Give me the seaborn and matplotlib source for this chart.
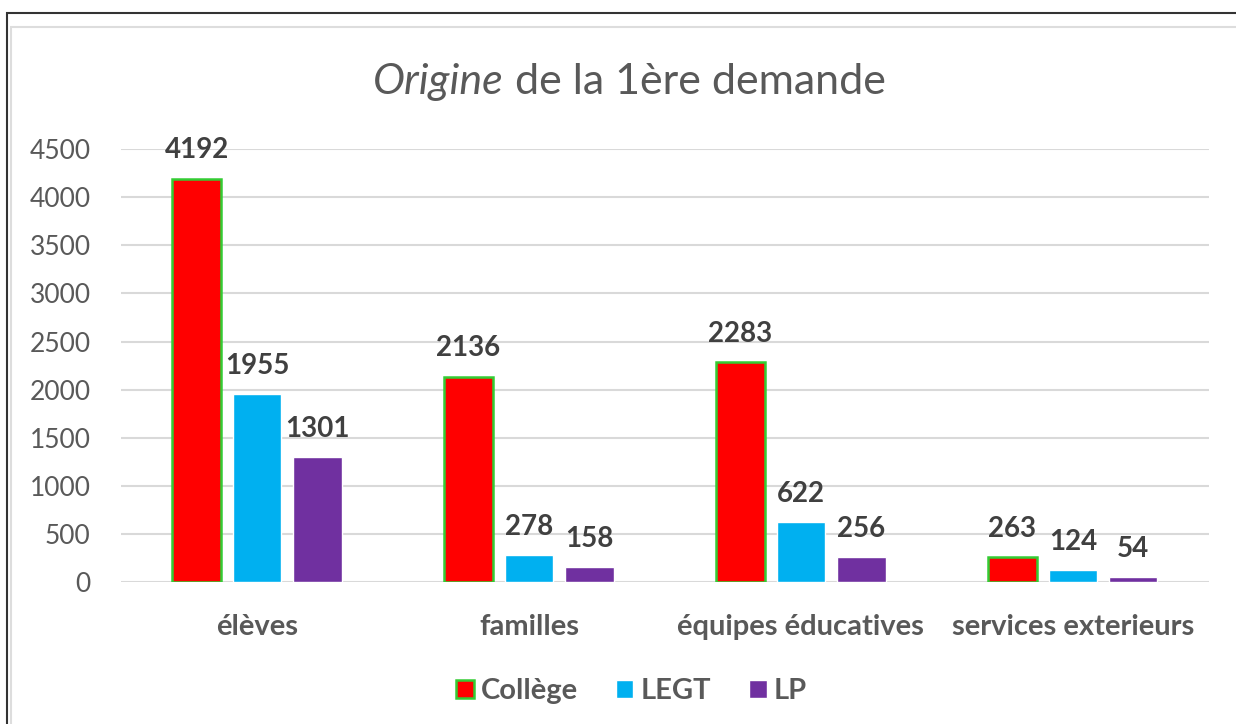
import seaborn as sns
import pandas as pd
import matplotlib.pyplot as plt
from matplotlib.patches import Patch, Rectangle

categories = ["élèves", "familles", "équipes éducatives", "services exterieurs"]
niveaux = ["Collège", "LEGT", "LP"]
college = [4192, 2136, 2283, 263]
legt = [1955, 278, 622, 124]
lp = [1301, 158, 256, 54]

colors = {"Collège": "#FF0000", "LEGT": "#00B0F0", "LP": "#7030A0"}

rows = []
for niv, vals in zip(niveaux, [college, legt, lp]):
    for cat, v in zip(categories, vals):
        rows.append({"origine": cat, "niveau": niv, "n": v})
df = pd.DataFrame(rows)

sns.set_style("white")
plt.rcParams['font.family'] = ['Lato', 'DejaVu Sans']

fig = plt.figure(figsize=(12.36, 7.24), dpi=100)
ax = fig.add_axes([0.098, 0.196, 0.88, 0.598])

sns.barplot(data=df, x="origine", y="n", hue="niveau", order=categories,
            hue_order=niveaux, palette=colors, width=0.667, gap=0.2,
            saturation=1, legend=False, ax=ax)

for p in ax.containers[0]:
    p.set_edgecolor("#33CC33")
    p.set_linewidth(1.8)

for c in ax.containers:
    ax.bar_label(c, padding=11, fontsize=20, fontweight="bold", color="#404040")

ax.set_ylim(0, 4500)
ax.set_yticks(range(0, 4501, 500))
ax.grid(axis="y", color="#D9D9D9", linewidth=1.5)
ax.set_axisbelow(True)
sns.despine(ax=ax, left=True, bottom=True, top=True, right=True)
ax.tick_params(axis="y", length=0, pad=22, labelsize=19, labelcolor="#595959")
ax.tick_params(axis="x", length=0, pad=23, labelsize=21, labelcolor="#595959")
for lab in ax.get_xticklabels():
    lab.set_fontweight("bold")
ax.set_xlabel("")
ax.set_ylabel("")

# titre avec "Origine" en italique
fig.canvas.draw()
r = fig.canvas.get_renderer()
t1 = fig.text(0, 0.887, "Origine", fontsize=31, style="italic", color="#595959", va="center")
t2 = fig.text(0, 0.887, " de la 1ère demande", fontsize=31, color="#595959", va="center")
w1 = t1.get_window_extent(r).width / fig.bbox.width
w2 = t2.get_window_extent(r).width / fig.bbox.width
x0 = 0.509 - (w1 + w2) / 2
t1.set_x(x0)
t2.set_x(x0 + w1)

handles = [Patch(facecolor=colors["Collège"], edgecolor="#33CC33", linewidth=1.8),
           Patch(facecolor=colors["LEGT"]),
           Patch(facecolor=colors["LP"])]
fig.legend(handles, niveaux, loc="center", bbox_to_anchor=(0.511, 0.045), ncol=3,
           frameon=False, handlelength=0.6, handleheight=0.6, handletextpad=0.25,
           columnspacing=1.3, prop={"size": 21, "weight": "bold"}, labelcolor="#595959")

# cadres
fig.patches.append(Rectangle((7 / 1236, -0.1), 1.2, 1 - 13 / 724 + 0.1, transform=fig.transFigure,
                             fill=False, edgecolor="#333333", linewidth=1.5))
fig.patches.append(Rectangle((11 / 1236, -0.1), 1.2, 1 - 27 / 724 + 0.1, transform=fig.transFigure,
                             fill=False, edgecolor="#DDDDDD", linewidth=1.5))

fig.savefig("out.png", dpi=100)
